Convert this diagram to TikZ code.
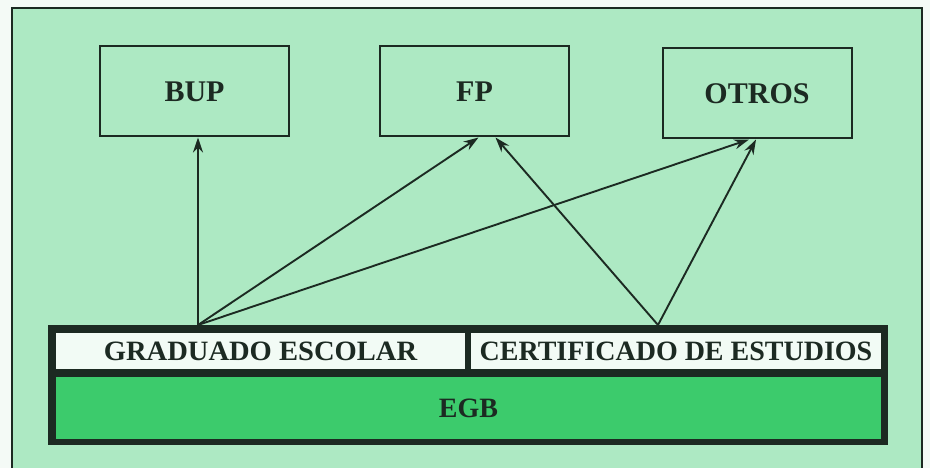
\documentclass[tikz,border=0pt]{standalone}
\usepackage{fontspec}
\setmainfont{Liberation Serif}
\usetikzlibrary{arrows.meta}
\definecolor{bg}{HTML}{ADE9C3}
\definecolor{outbg}{HTML}{F4FAF6}
\definecolor{egbgreen}{HTML}{3CCB6C}
\definecolor{dark}{HTML}{1C2A22}
\definecolor{cellwhite}{HTML}{F2FBF5}
\tikzset{
  topbox/.style={draw=dark, line width=2pt, minimum width=189pt, minimum height=90pt, inner sep=0pt,
    font=\fontsize{30}{32}\selectfont\bfseries, text=dark},
  cell/.style={inner sep=0pt, text=dark, font=\fontsize{28}{30}\selectfont\bfseries},
  conn/.style={draw=dark, line width=1.9pt, -{Stealth[length=15pt,width=10pt]}},
}
\begin{document}
\begin{tikzpicture}[x=1pt,y=-1pt]
\useasboundingbox (0,0) rectangle (930,468);
\fill[outbg] (0,0) rectangle (930,468);
\fill[bg] (12,8) rectangle (922,475);
\draw[dark, line width=1.6pt] (12,8) rectangle (922,475);
% top boxes
\node[topbox] (bup) at (194.5,91.5) {\raisebox{-2pt}{BUP}};
\node[topbox] (fp) at (474.5,91.5) {\raisebox{-2pt}{FP}};
\node[topbox] (otros) at (757,93.5) {\raisebox{-1pt}{OTROS}};
% bottom block
\fill[dark] (48,325) rectangle (888,445);
\node[cell, fill=cellwhite, minimum width=409pt, minimum height=36pt] (grad) at (260.5,351) {\scalebox{1.02}[1]{GRADUADO ESCOLAR}};
\node[cell, fill=cellwhite, minimum width=410pt, minimum height=36pt] (cert) at (676,351) {\scalebox{1.0}[1]{CERTIFICADO DE ESTUDIOS}};
\node[cell, fill=egbgreen, minimum width=825pt, minimum height=62pt] (egb) at (468.5,408) {EGB};
\coordinate (g) at (198,325);
\coordinate (c) at (658,325);
% connectors
\draw[conn] (g) -- (g |- bup.south);
\draw[conn] (g) -- ([xshift=4pt]fp.south);
\draw[conn] (g) -- ([xshift=-8pt]otros.south);
\draw[conn] (c) -- ([xshift=21pt]fp.south);
\draw[conn] (c) -- ([xshift=-1pt]otros.south);
\end{tikzpicture}
\end{document}
